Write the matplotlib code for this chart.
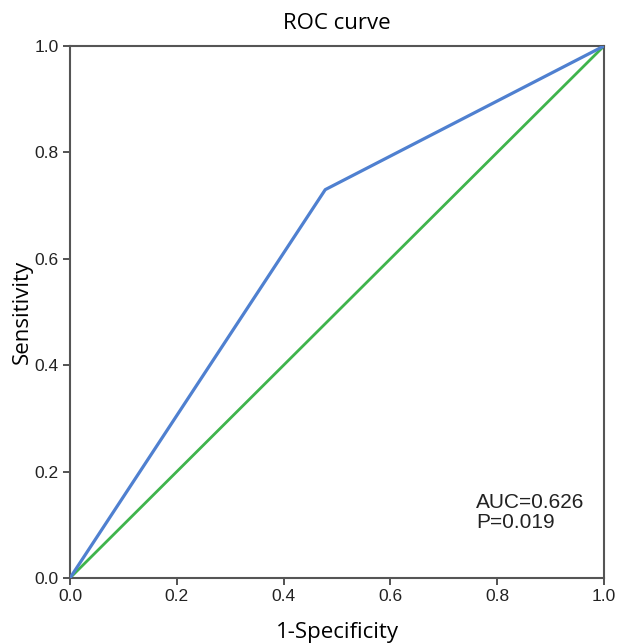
import matplotlib
matplotlib.use("Agg")
import matplotlib.pyplot as plt

# ROC curve points
fpr = [0.0, 0.478, 1.0]
tpr = [0.0, 0.730, 1.0]
ref_x = [0.0, 1.0]
ref_y = [0.0, 1.0]
ticks = [0.0, 0.2, 0.4, 0.6, 0.8, 1.0]
auc_text = "AUC=0.626\nP=0.019"

fig = plt.figure(figsize=(6.19, 6.44), dpi=100)
ax = fig.add_axes([70 / 619, 1 - 578 / 644, 534 / 619, 532 / 644])

ax.plot(ref_x, ref_y, color="#3fb44c", lw=2.0, zorder=2)
ax.plot(fpr, tpr, color="#4f80d0", lw=2.3, zorder=3)

ax.set_xlim(0, 1)
ax.set_ylim(0, 1)
ax.set_xticks(ticks)
ax.set_yticks(ticks)
ax.set_xticklabels([f"{t:.1f}" for t in ticks], family="Liberation Sans", fontsize=12.5, color="#222222")
ax.set_yticklabels([f"{t:.1f}" for t in ticks], family="Liberation Sans", fontsize=12.5, color="#222222")
ax.tick_params(direction="out", length=5, width=1.3, color="#444444", pad=3)
for s in ax.spines.values():
    s.set_color("#555555")
    s.set_linewidth(1.5)

ax.set_title("ROC curve", family="Open Sans", fontsize=16, pad=12)
ax.set_xlabel("1-Specificity", family="Open Sans", fontsize=16, labelpad=13)
ax.set_ylabel("Sensitivity", family="Open Sans", fontsize=16, labelpad=1)

ax.text(0.76, 0.16, auc_text, family="Liberation Sans", fontsize=15,
        va="top", ha="left", linespacing=1.1, color="#222222")

fig.savefig("out.png", dpi=100)
